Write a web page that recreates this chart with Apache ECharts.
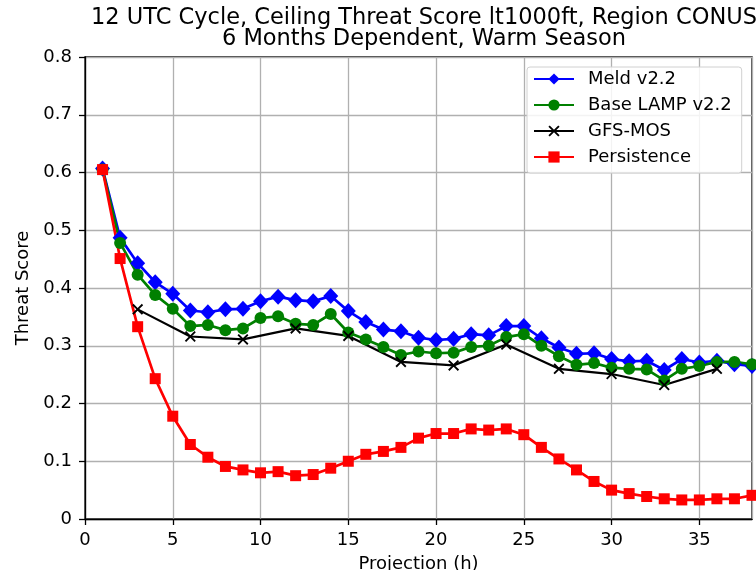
<!DOCTYPE html>
<html>
<head>
<meta charset="utf-8">
<script src="https://cdn.jsdelivr.net/npm/echarts@6/dist/echarts.min.js"></script>
<style>html,body{margin:0;padding:0;background:#fff}#c{width:756px;height:570px}</style>
</head>
<body>
<div id="c"></div>
<script>
var titleLines = ['12 UTC Cycle, Ceiling Threat Score lt1000ft, Region CONUS', '6 Months Dependent, Warm Season'];
var hours = [1,2,3,4,5,6,7,8,9,10,11,12,13,14,15,16,17,18,19,20,21,22,23,24,25,26,27,28,29,30,31,32,33,34,35,36,37,38];
var meld = [0.607,0.487,0.443,0.41,0.39,0.361,0.358,0.363,0.364,0.377,0.385,0.379,0.377,0.386,0.36,0.341,0.328,0.325,0.314,0.31,0.312,0.32,0.318,0.334,0.334,0.313,0.297,0.286,0.287,0.277,0.273,0.274,0.258,0.277,0.271,0.274,0.268,0.265];
var baseLamp = [0.605,0.478,0.423,0.388,0.364,0.334,0.336,0.327,0.33,0.348,0.351,0.338,0.336,0.355,0.323,0.311,0.298,0.284,0.29,0.287,0.288,0.298,0.3,0.315,0.32,0.3,0.282,0.267,0.27,0.262,0.26,0.259,0.24,0.26,0.265,0.272,0.272,0.268];
var gfsHours = [3,6,9,12,15,18,21,24,27,30,33,36];
var gfsMos = [0.363,0.316,0.311,0.33,0.317,0.272,0.266,0.302,0.26,0.251,0.232,0.26];
var persistence = [0.605,0.451,0.333,0.243,0.178,0.129,0.107,0.091,0.085,0.08,0.082,0.075,0.077,0.088,0.1,0.112,0.117,0.124,0.14,0.148,0.148,0.156,0.154,0.156,0.146,0.124,0.104,0.085,0.065,0.05,0.044,0.039,0.035,0.033,0.033,0.035,0.035,0.041];
var seriesNames = ['Meld v2.2', 'Base LAMP v2.2', 'GFS-MOS', 'Persistence'];

function pairs(xs, ys) { return xs.map(function (x, i) { return [x, ys[i]]; }); }

var FONT = 'DejaVu Sans';
var FS = 18;
var xPath = 'path://M0,1.2 L1.2,0 L5,3.8 L8.8,0 L10,1.2 L6.2,5 L10,8.8 L8.8,10 L5,6.2 L1.2,10 L0,8.8 L3.8,5 Z';

var chart = echarts.init(document.getElementById('c'), null, {renderer: 'canvas'});
chart.setOption({
  animation: false,
  backgroundColor: '#fff',
  title: {
    text: titleLines.join('\n'),
    left: 419, top: 3, textAlign: 'center',
    textStyle: {fontFamily: FONT, fontSize: 22.5, fontWeight: 'normal', color: '#000', lineHeight: 21}
  },
  grid: {left: 85, right: 4, top: 57, bottom: 51, show: true, borderColor: '#000', borderWidth: 1.3,
    backgroundColor: 'transparent', containLabel: false, outerBoundsMode: 'none'},
  legend: {
    orient: 'vertical', left: 527, top: 67,
    data: seriesNames,
    itemWidth: 40, itemHeight: 14, itemGap: 6,
    padding: [2, 10, 6, 6],
    backgroundColor: 'rgba(255,255,255,0.85)',
    borderColor: '#d0d0d0', borderWidth: 1, borderRadius: 3,
    textStyle: {fontFamily: FONT, fontSize: FS, color: '#000', lineHeight: 20, padding: [0, 0, 0, 9]}
  },
  xAxis: {
    type: 'value', min: 0, max: 38, interval: 5,
    name: 'Projection (h)', nameLocation: 'middle', nameGap: 36,
    nameTextStyle: {fontFamily: FONT, fontSize: FS, color: '#000'},
    axisLine: {show: true, lineStyle: {color: '#000', width: 1.3}},
    axisTick: {show: true, length: 6, inside: false, lineStyle: {color: '#000', width: 1.3}},
    axisLabel: {fontFamily: FONT, fontSize: FS, color: '#000', margin: 12, showMaxLabel: false,
      formatter: function (v) { return v % 5 === 0 ? String(v) : ''; }},
    splitLine: {show: true, lineStyle: {color: '#b0b0b0', width: 1.3}}
  },
  yAxis: {
    type: 'value', min: 0, max: 0.8, interval: 0.1,
    name: 'Threat Score', nameLocation: 'middle', nameGap: 52,
    nameTextStyle: {fontFamily: FONT, fontSize: FS, color: '#000'},
    axisLine: {show: true, lineStyle: {color: '#000', width: 1.3}},
    axisTick: {show: true, length: 6, inside: false, lineStyle: {color: '#000', width: 1.3}},
    axisLabel: {fontFamily: FONT, fontSize: FS, color: '#000', margin: 13,
      formatter: function (v) { return String(Math.round(v * 10) / 10); }},
    splitLine: {show: true, lineStyle: {color: '#b0b0b0', width: 1.3}}
  },
  series: [
    {name: seriesNames[0], type: 'line', data: pairs(hours, meld), symbol: 'diamond', symbolSize: [15, 16],
      lineStyle: {color: '#0000ff', width: 2.7}, itemStyle: {color: '#0000ff'}, showAllSymbol: true, clip: true},
    {name: seriesNames[1], type: 'line', data: pairs(hours, baseLamp), symbol: 'circle', symbolSize: 12,
      lineStyle: {color: '#008000', width: 2.7}, itemStyle: {color: '#008000'}, showAllSymbol: true, clip: true},
    {name: seriesNames[2], type: 'line', data: pairs(gfsHours, gfsMos), symbol: xPath, symbolSize: 11,
      lineStyle: {color: '#000', width: 2.2}, itemStyle: {color: '#000'}, showAllSymbol: true, clip: true},
    {name: seriesNames[3], type: 'line', data: pairs(hours, persistence), symbol: 'rect', symbolSize: 11,
      lineStyle: {color: '#ff0000', width: 2.7}, itemStyle: {color: '#ff0000'}, showAllSymbol: true, clip: true}
  ]
});
</script>
</body>
</html>
